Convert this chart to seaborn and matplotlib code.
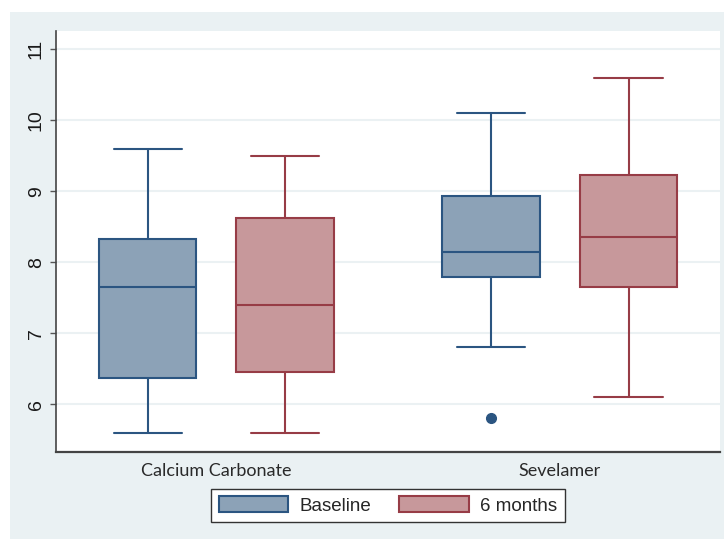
import matplotlib
matplotlib.use("Agg")
import matplotlib.pyplot as plt
from matplotlib.patches import Patch, Rectangle
import pandas as pd
import seaborn as sns

# Treatment groups and measurement periods
categories = ["Calcium Carbonate", "Sevelamer"]
periods = ["Baseline", "6 months"]

# Observations per group (lower whisker, quartiles, median, upper whisker, outliers)
cc_baseline = [5.6, 6.37, 6.37, 7.65, 8.33, 8.33, 9.6]
cc_6months = [5.6, 6.46, 6.46, 7.40, 8.63, 8.63, 9.5]
sev_baseline = [5.8, 6.8, 7.80, 7.80, 8.15, 8.93, 8.93, 10.1, 10.1]
sev_6months = [6.1, 7.65, 7.65, 8.35, 9.23, 9.23, 10.6]

y_ticks = [6, 7, 8, 9, 10, 11]

fill_colors = {"Baseline": "#8CA2B7", "6 months": "#C7989B"}
edge_colors = {"Baseline": "#2B5581", "6 months": "#973C46"}
bg_color = "#EAF1F3"

groups = [
    ("Calcium Carbonate", "Baseline", cc_baseline),
    ("Calcium Carbonate", "6 months", cc_6months),
    ("Sevelamer", "Baseline", sev_baseline),
    ("Sevelamer", "6 months", sev_6months),
]
rows = []
for treat, period, vals in groups:
    for v in vals:
        rows.append({"treatment": treat, "period": period, "value": v})
df = pd.DataFrame(rows)

sns.set_theme(style="white")
plt.rcParams["font.family"] = ["Liberation Sans", "DejaVu Sans"]

fig = plt.figure(figsize=(7.24, 5.39), dpi=100, facecolor="white")
fig.patches.append(Rectangle((10 / 724, 0), 714 / 724, 527 / 539,
                             transform=fig.transFigure, facecolor=bg_color,
                             edgecolor="none", zorder=-10))
ax = fig.add_axes([56 / 724, 1 - 452 / 539, 664 / 724, 421 / 539])
ax.set_facecolor("white")

box_width = 0.8
box_gap = 0.29
for period in periods:
    sub = df[df["period"] == period]
    sns.boxplot(
        data=sub, x="treatment", y="value", hue="period",
        order=categories, hue_order=periods,
        palette=fill_colors, saturation=1, dodge=True,
        width=box_width, gap=box_gap, whis=1.5,
        linecolor=edge_colors[period], linewidth=1.5,
        flierprops=dict(marker="o", markersize=7,
                        markerfacecolor=edge_colors[period],
                        markeredgecolor=edge_colors[period]),
        legend=False, ax=ax,
    )

# Widen the whisker caps to about 70% of the box width
single_box = box_width / len(periods) * (1 - box_gap)
cap_half = 0.35 * single_box
for line in ax.lines:
    xs, ys = line.get_xdata(), line.get_ydata()
    if len(xs) == 2 and ys[0] == ys[1]:
        length = abs(xs[1] - xs[0])
        if 0 < length < 0.8 * single_box:
            mid = (xs[0] + xs[1]) / 2
            line.set_xdata([mid - cap_half, mid + cap_half])

ax.set_xlim(-0.467, 1.466)
ax.set_ylim(5.328, 11.258)
ax.set_yticks(y_ticks)
ax.set_yticklabels([str(t) for t in y_ticks], rotation=90, va="center",
                   fontsize=14, color="#1A1A1A")
ax.set_xticks(range(len(categories)))
ax.set_xticklabels(categories, fontsize=13, color="#2A2A2A",
                   family=["Lato", "DejaVu Sans"])
ax.tick_params(axis="y", length=4, width=1, color="#555555", pad=4, left=True)
ax.tick_params(axis="x", length=0, pad=8)
ax.set_xlabel("")
ax.set_ylabel("")

ax.yaxis.grid(True, color="#EBF1F3", linewidth=1.5)
ax.set_axisbelow(True)
for side in ["top", "right"]:
    ax.spines[side].set_visible(False)
ax.spines["left"].set_color("#444444")
ax.spines["left"].set_linewidth(1.2)
ax.spines["bottom"].set_color("#444444")
ax.spines["bottom"].set_linewidth(1.6)

handles = [Patch(facecolor=fill_colors[p], edgecolor=edge_colors[p], linewidth=1.5)
           for p in periods]
leg = fig.legend(handles, periods, loc="center",
                 bbox_to_anchor=(388 / 724, 1 - 505.5 / 539), ncol=2,
                 fontsize=13.5, frameon=True, fancybox=False,
                 handlelength=3.7, handleheight=0.95, handletextpad=0.6,
                 columnspacing=1.5, borderpad=0.4)
leg.get_frame().set_edgecolor("#333333")
leg.get_frame().set_linewidth(1.0)
leg.get_frame().set_facecolor("white")
leg.get_frame().set_alpha(1)

fig.savefig("out.png", dpi=100, facecolor="white")
